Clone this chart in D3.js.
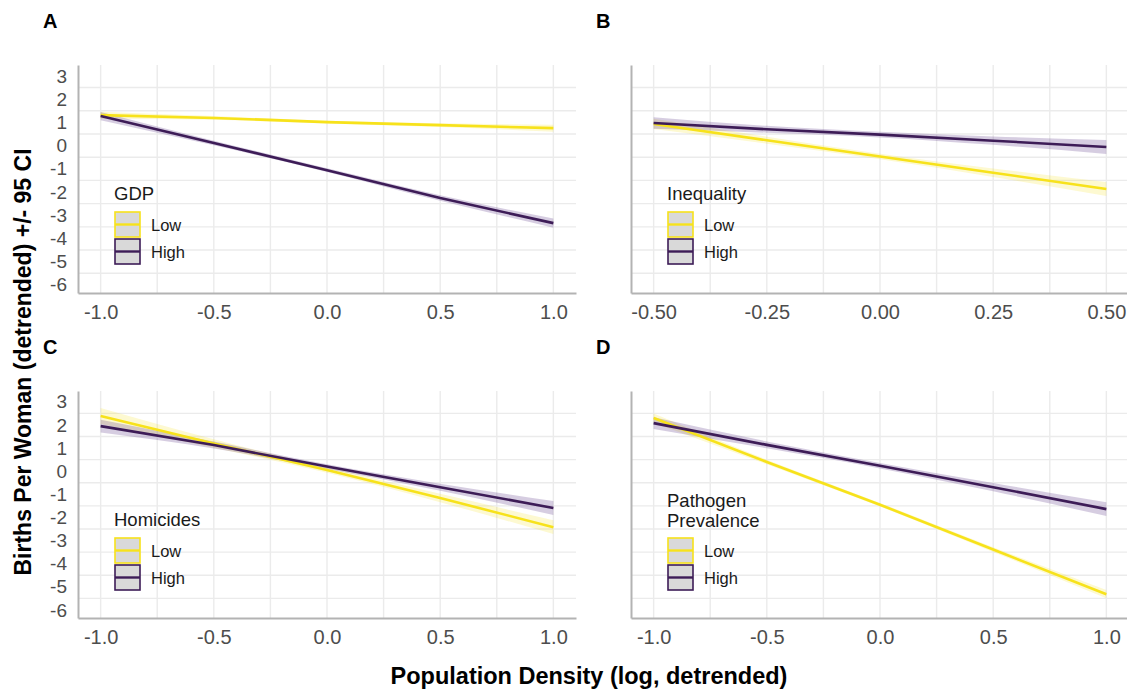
<!DOCTYPE html>
<html>
<head>
<meta charset="utf-8">
<script src="https://cdn.jsdelivr.net/npm/d3@7"></script>
<style>
  body { margin: 0; background: #fff; }
  svg { font-family: "Liberation Sans", Arial, sans-serif; }
</style>
</head>
<body>
<svg id="canvas"></svg>
<script>
// tick values
const xTicksWide = [-1.0, -0.5, 0.0, 0.5, 1.0];
const xTicksNarrow = [-0.50, -0.25, 0.00, 0.25, 0.50];
const yTicks = [3, 2, 1, 0, -1, -2, -3, -4, -5, -6];
const groups = ['Low', 'High'];

// A: GDP
const gdpX = [-1.0, -0.5, 0.0, 0.5, 1.0];
const gdpLow = [1.31, 1.19, 1.01, 0.88, 0.75];
const gdpLowCI = [0.15, 0.08, 0.06, 0.08, 0.15];
const gdpHigh = [1.27, 0.11, -1.06, -2.26, -3.34];
const gdpHighCI = [0.18, 0.10, 0.08, 0.12, 0.20];

// B: Inequality
const ineqX = [-0.50, -0.25, 0.00, 0.25, 0.50];
const ineqLow = [0.93, 0.23, -0.47, -1.17, -1.87];
const ineqLowCI = [0.22, 0.15, 0.12, 0.18, 0.30];
const ineqHigh = [0.97, 0.70, 0.47, 0.21, -0.06];
const ineqHighCI = [0.25, 0.15, 0.12, 0.18, 0.30];

// C: Homicides
const homX = [-1.0, -0.5, 0.0, 0.5, 1.0];
const homLow = [2.39, 1.20, 0.05, -1.16, -2.42];
const homLowCI = [0.35, 0.18, 0.12, 0.18, 0.30];
const homHigh = [1.95, 1.13, 0.20, -0.69, -1.59];
const homHighCI = [0.28, 0.15, 0.10, 0.15, 0.30];

// D: Pathogen prevalence
const pathX = [-1.0, -0.5, 0.0, 0.5, 1.0];
const pathLow = [2.30, 0.40, -1.45, -3.39, -5.32];
const pathLowCI = [0.20, 0.10, 0.08, 0.10, 0.18];
const pathHigh = [2.08, 1.14, 0.24, -0.69, -1.64];
const pathHighCI = [0.25, 0.15, 0.12, 0.18, 0.30];

const width = 1127;
const height = 692;

const colors = { Low: '#F7E21B', High: '#3D1C57' };
const ribbonFill = { Low: '#F7E21B', High: '#6B4A92' };
const ribbonOpacity = { Low: 0.2, High: 0.28 };

let canvas = d3.select('#canvas')
  .attr('width', width)
  .attr('height', height);

let panels = [
  { letter: 'A', title: ['GDP'], x: gdpX, low: gdpLow, lowCI: gdpLowCI, high: gdpHigh, highCI: gdpHighCI,
    ticks: xTicksWide, fmt: d3.format('.1f'), left: 78, right: 576, top: 65, bottom: 293, yLabels: true },
  { letter: 'B', title: ['Inequality'], x: ineqX, low: ineqLow, lowCI: ineqLowCI, high: ineqHigh, highCI: ineqHighCI,
    ticks: xTicksNarrow, fmt: d3.format('.2f'), left: 631, right: 1129, top: 65, bottom: 293, yLabels: false },
  { letter: 'C', title: ['Homicides'], x: homX, low: homLow, lowCI: homLowCI, high: homHigh, highCI: homHighCI,
    ticks: xTicksWide, fmt: d3.format('.1f'), left: 78, right: 576, top: 391, bottom: 618, yLabels: true },
  { letter: 'D', title: ['Pathogen', 'Prevalence'], x: pathX, low: pathLow, lowCI: pathLowCI, high: pathHigh, highCI: pathHighCI,
    ticks: xTicksWide, fmt: d3.format('.1f'), left: 631, right: 1129, top: 391, bottom: 618, yLabels: false }
];

let minusFmt = (f) => (d) => f(d).replace('−', '-');

let drawPanel = (p) => {
  let span = p.ticks[p.ticks.length - 1] - p.ticks[0];
  let xScale = d3.scaleLinear()
    .domain([p.ticks[0] - span * 0.05, p.ticks[p.ticks.length - 1] + span * 0.05])
    .range([p.left, p.right]);
  let yScale = d3.scaleLinear()
    .domain([-6.35, 3.47])
    .range([p.bottom, p.top]);

  let g = canvas.append('g');

  // grid: vertical every half tick, horizontal between integer labels
  let step = p.ticks[1] - p.ticks[0];
  let vGrid = d3.range(p.ticks[0], p.ticks[p.ticks.length - 1] + step / 4, step / 2);
  let hGrid = d3.range(2.5, -6, -1);
  g.selectAll('.vgrid').data(vGrid).enter().append('line')
    .attr('x1', d => xScale(d)).attr('x2', d => xScale(d))
    .attr('y1', p.top).attr('y2', p.bottom)
    .attr('stroke', '#ebebeb').attr('stroke-width', 1.4);
  g.selectAll('.hgrid').data(hGrid).enter().append('line')
    .attr('x1', p.left).attr('x2', p.right)
    .attr('y1', d => yScale(d)).attr('y2', d => yScale(d))
    .attr('stroke', '#ebebeb').attr('stroke-width', 1.4);

  // axes
  let xAxis = d3.axisBottom(xScale).tickValues(p.ticks).tickSize(0).tickPadding(12)
    .tickFormat(minusFmt(p.fmt));
  let gx = g.append('g').attr('transform', `translate(0, ${p.bottom})`).call(xAxis);
  gx.select('.domain').attr('stroke', '#b3b3b3').attr('stroke-width', 2);
  gx.selectAll('text').attr('fill', '#4d4d4d').style('font-size', '20px');

  let yAxis = d3.axisLeft(yScale).tickValues(yTicks).tickSize(0).tickPadding(11)
    .tickFormat(p.yLabels ? (d => String(d)) : (() => ''));
  let gy = g.append('g').attr('transform', `translate(${p.left}, 0)`).call(yAxis);
  gy.select('.domain').attr('stroke', '#b3b3b3').attr('stroke-width', 2);
  gy.selectAll('text').attr('fill', '#4d4d4d').style('font-size', '19px');

  // ribbons and lines
  let series = [
    { key: 'Low', fit: p.low, ci: p.lowCI },
    { key: 'High', fit: p.high, ci: p.highCI }
  ];
  series.forEach((s) => {
    let pts = p.x.map((x, i) => ({ x: x, y: s.fit[i], se: s.ci[i] }));
    let area = d3.area()
      .x(d => xScale(d.x))
      .y0(d => yScale(d.y - d.se))
      .y1(d => yScale(d.y + d.se))
      .curve(d3.curveMonotoneX);
    g.append('path').datum(pts)
      .attr('d', area)
      .attr('fill', ribbonFill[s.key])
      .attr('fill-opacity', ribbonOpacity[s.key]);
  });
  series.forEach((s) => {
    let pts = p.x.map((x, i) => ({ x: x, y: s.fit[i] }));
    let line = d3.line().x(d => xScale(d.x)).y(d => yScale(d.y));
    g.append('path').datum(pts)
      .attr('d', line)
      .attr('fill', 'none')
      .attr('stroke', colors[s.key])
      .attr('stroke-width', 2.6);
  });

  // panel letter
  canvas.append('text')
    .attr('x', p.left - 35).attr('y', p.top - 37)
    .attr('font-weight', 'bold').attr('font-size', 20)
    .text(p.letter);

  // legend
  let lx = p.left + 37;
  let keyTop = p.top + 147;
  let titleBase = p.top + 135 - (p.title.length - 1) * 19;
  p.title.forEach((t, i) => {
    g.append('text')
      .attr('x', lx - 1).attr('y', titleBase + i * 20)
      .attr('font-size', 18.5).attr('fill', '#1a1a1a')
      .text(t);
  });
  groups.forEach((key, i) => {
    let ky = keyTop + i * 27;
    g.append('rect')
      .attr('x', lx).attr('y', ky)
      .attr('width', 25).attr('height', 25)
      .attr('fill', '#d9d9d9')
      .attr('stroke', colors[key]).attr('stroke-width', 1.6);
    g.append('line')
      .attr('x1', lx).attr('x2', lx + 25)
      .attr('y1', ky + 12.5).attr('y2', ky + 12.5)
      .attr('stroke', colors[key]).attr('stroke-width', 2.4);
    g.append('text')
      .attr('x', lx + 36).attr('y', ky + 13)
      .attr('dy', '0.35em')
      .attr('font-size', 16.5).attr('fill', '#1a1a1a')
      .text(key);
  });
};

panels.forEach(drawPanel);

// shared axis titles
canvas.append('text')
  .attr('transform', 'translate(31, 362) rotate(-90)')
  .attr('text-anchor', 'middle')
  .attr('font-weight', 'bold').attr('font-size', 23)
  .text('Births Per Woman (detrended) +/- 95 CI');

canvas.append('text')
  .attr('x', 589).attr('y', 684)
  .attr('text-anchor', 'middle')
  .attr('font-weight', 'bold').attr('font-size', 23.5)
  .text('Population Density (log, detrended)');
</script>
</body>
</html>
